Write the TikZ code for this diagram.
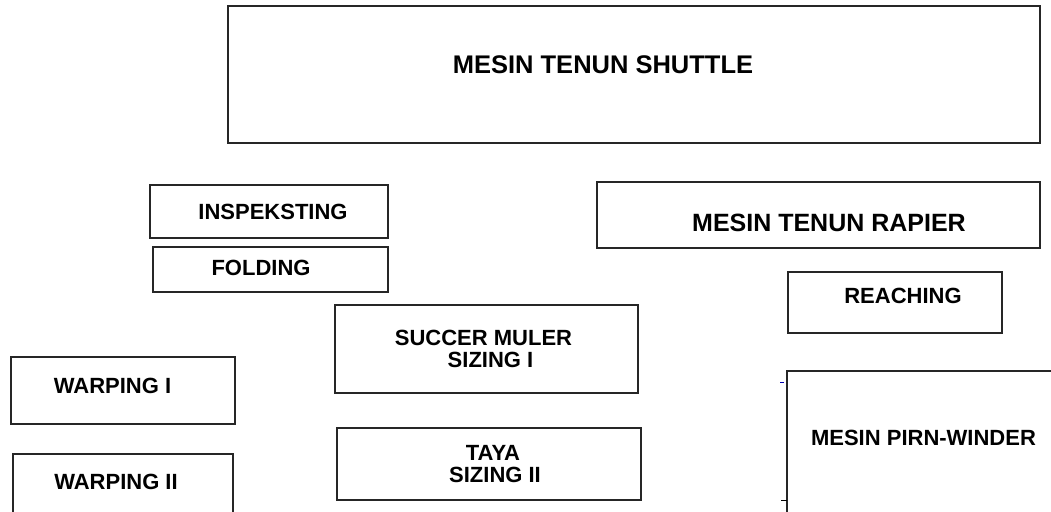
\documentclass[tikz,border=0pt]{standalone}
\usepackage{fontspec}
\setmainfont{Liberation Sans}
\begin{document}
\begin{tikzpicture}[x=1pt,y=-1pt,
  box/.style={draw=black!85,line width=1.4pt,rectangle,inner sep=0pt},
  lbl/.style={inner sep=0pt,font=\bfseries\fontsize{22}{26}\selectfont,align=center,text=black},
  biglbl/.style={inner sep=0pt,font=\bfseries\fontsize{25.5}{30}\selectfont,align=center,text=black}]
\useasboundingbox (0,0) rectangle (1051,511);
\clip (0,0) rectangle (1051,511);
% boxes
\node[box,minimum width=812pt,minimum height=137pt] (shuttle) at (634,74.5) {};
\node[box,minimum width=238pt,minimum height=53pt] (insp) at (269,211.5) {};
\node[box,minimum width=235pt,minimum height=45pt] (fold) at (270.5,269.5) {};
\node[box,minimum width=443pt,minimum height=66pt] (rapier) at (818.5,215) {};
\node[box,minimum width=214pt,minimum height=61pt] (reach) at (895,302.5) {};
\node[box,minimum width=303pt,minimum height=88pt] (succer) at (486.5,349) {};
\node[box,minimum width=224pt,minimum height=67pt] (warp1) at (123,390.5) {};
\node[box,minimum width=304pt,minimum height=72pt] (taya) at (489,464) {};
\node[box,minimum width=220pt,minimum height=90pt] (warp2) at (123,499) {};
\node[box,minimum width=300pt,minimum height=170pt] (pirn) at (937,456) {};
% texts
\node[biglbl] (tshuttle) at (603,65) {MESIN TENUN SHUTTLE};
\node[lbl] (tinsp) at (273,212) {INSPEKSTING};
\node[lbl] (tfold) at (261,268) {FOLDING};
\node[biglbl,font=\bfseries\fontsize{25}{30}\selectfont] (trapier) at (829,223) {MESIN TENUN RAPIER};
\node[lbl] (treach) at (903,296) {REACHING};
\node[lbl] (tsuc1) at (483.5,338) {SUCCER MULER};
\node[lbl] (tsuc2) at (490.5,360) {SIZING I};
\node[lbl] (twarp1) at (112.5,386) {WARPING I};
\node[lbl] (ttaya1) at (493,453) {TAYA};
\node[lbl] (ttaya2) at (495,475) {SIZING II};
\node[lbl] (twarp2) at (116,482) {WARPING II};
\node[lbl] (tpirn) at (923.5,438) {MESIN PIRN-WINDER};
% tiny marks
\coordinate (m1a) at (780,382);
\coordinate (m1b) at (784,382);
\coordinate (m2a) at (781,500);
\coordinate (m2b) at (787,500);
\draw[blue!70!black,line width=0.8pt] (m1a) -- (m1b);
\draw[black,line width=1pt] (m2a) -- (m2b);
\end{tikzpicture}
\end{document}
